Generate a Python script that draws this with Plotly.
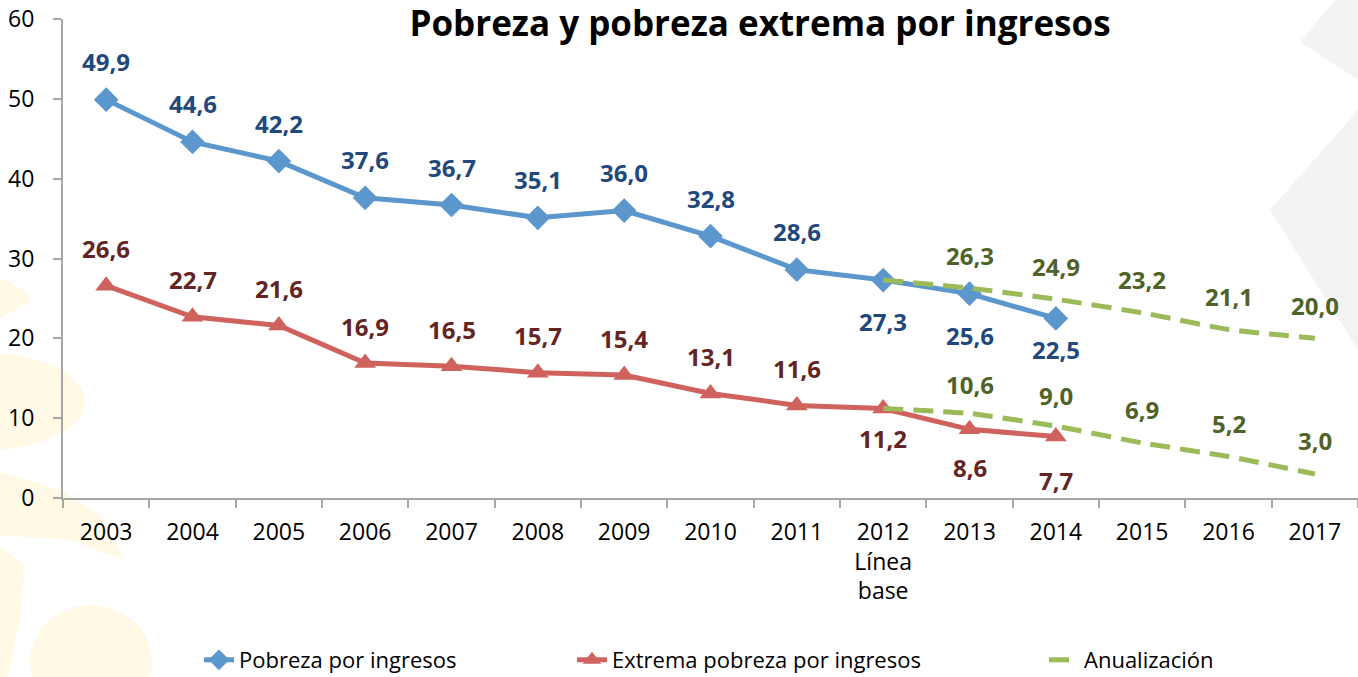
import plotly.graph_objects as go

# ---------------- data ----------------
years = ["2003", "2004", "2005", "2006", "2007", "2008", "2009", "2010",
         "2011", "2012", "2013", "2014", "2015", "2016", "2017"]
tick_labels = ["2003", "2004", "2005", "2006", "2007", "2008", "2009", "2010",
               "2011", "2012<br>Línea<br>base", "2013", "2014", "2015", "2016", "2017"]

pobreza_years = ["2003", "2004", "2005", "2006", "2007", "2008", "2009", "2010",
                 "2011", "2012", "2013", "2014"]
pobreza = [49.9, 44.6, 42.2, 37.6, 36.7, 35.1, 36.0, 32.8, 28.6, 27.3, 25.6, 22.5]
extrema = [26.6, 22.7, 21.6, 16.9, 16.5, 15.7, 15.4, 13.1, 11.6, 11.2, 8.6, 7.7]

anual_years = ["2012", "2013", "2014", "2015", "2016", "2017"]
anual_pobreza = [27.3, 26.3, 24.9, 23.2, 21.1, 20.0]
anual_extrema = [11.2, 10.6, 9.0, 6.9, 5.2, 3.0]

series_names = ["Pobreza por ingresos", "Extrema pobreza por ingresos", "Anualización"]
title_text = "Pobreza y pobreza extrema por ingresos"

# ---------------- styles ----------------
FONT = "Open Sans"
BLUE, BLUE_LBL = "#5B96CD", "#1F497D"
RED, RED_LBL = "#D0625E", "#632523"
GREEN, GREEN_LBL = "#9BBB59", "#4F6228"
AXIS = "#A6A6A6"

blue_shift = [38] * 9 + [-41, -42, -31]
red_shift = [37] * 9 + [-30, -38, -44]
green_shift_up = [33, 33, 33, 33, 33]
green_shift_low = [29, 31, 33, 33, 34]

W, H = 1358, 677
L, R, T, B = 63, 0, 19, 179


def fmt(v):
    return "<b>" + f"{v:.1f}".replace(".", ",") + "</b>"


def px(x):
    return (x - L) / (W - L - R)


def py(y):
    return (H - B - y) / (H - T - B)


fig = go.Figure()

fig.add_trace(go.Scatter(
    x=pobreza_years, y=pobreza, name=series_names[0], mode="lines+markers",
    line=dict(color=BLUE, width=5),
    marker=dict(symbol="diamond", size=19, color=BLUE),
    legend="legend", cliponaxis=False))
fig.add_trace(go.Scatter(
    x=pobreza_years, y=extrema, name=series_names[1], mode="lines+markers",
    line=dict(color=RED, width=5),
    marker=dict(symbol="triangle-up", size=19, color=RED),
    legend="legend2", cliponaxis=False))
fig.add_trace(go.Scatter(
    x=anual_years, y=anual_pobreza, name=series_names[2], mode="lines",
    line=dict(color=GREEN, width=5, dash="20px,10px", shape="spline", smoothing=0.4),
    legend="legend3", legendgroup="anual", cliponaxis=False))
fig.add_trace(go.Scatter(
    x=anual_years, y=anual_extrema, name=series_names[2], mode="lines",
    line=dict(color=GREEN, width=5, dash="20px,10px", shape="spline", smoothing=0.4),
    legend="legend3", legendgroup="anual", showlegend=False, cliponaxis=False))

annotations = []


def add_labels(xs, vals, shifts, color):
    for yr, v, s in zip(xs, vals, shifts):
        annotations.append(dict(
            x=years.index(yr), y=v, xref="x", yref="y", text=fmt(v),
            showarrow=False, yshift=s, xanchor="center", yanchor="middle",
            font=dict(family=FONT, size=24, color=color)))


add_labels(pobreza_years, pobreza, blue_shift, BLUE_LBL)
add_labels(pobreza_years, extrema, red_shift, RED_LBL)
add_labels(anual_years[1:], anual_pobreza[1:], green_shift_up, GREEN_LBL)
add_labels(anual_years[1:], anual_extrema[1:], green_shift_low, GREEN_LBL)

# decorative background watermark
YEL = "#FFF9E6"
GRY = "#F3F3F3"


def path(points):
    return "M" + " L".join(f"{px(a):.4f},{py(b):.4f}" for a, b in points) + " Z"


shapes = [
    dict(type="circle", xref="paper", yref="paper", x0=px(-110), x1=px(85),
         y0=py(450), y1=py(353), fillcolor=YEL, line_width=0, layer="below"),
    dict(type="circle", xref="paper", yref="paper", x0=px(30), x1=px(152),
         y0=py(720), y1=py(605), fillcolor=YEL, line_width=0, layer="below"),
    dict(type="path", xref="paper", yref="paper",
         path=path([(0, 472), (60, 490), (100, 515), (125, 560), (70, 540), (0, 535)]),
         fillcolor=YEL, line_width=0, layer="below"),
    dict(type="path", xref="paper", yref="paper",
         path=path([(0, 548), (25, 565), (20, 620), (8, 677), (0, 677)]),
         fillcolor=YEL, line_width=0, layer="below"),
    dict(type="path", xref="paper", yref="paper",
         path=path([(0, 278), (28, 292), (30, 302), (0, 318)]),
         fillcolor=YEL, line_width=0, layer="below"),
    dict(type="path", xref="paper", yref="paper",
         path=path([(1300, 42), (1335, 0), (1358, 0), (1358, 80)]),
         fillcolor=GRY, line_width=0, layer="below"),
    dict(type="path", xref="paper", yref="paper",
         path=path([(1358, 110), (1270, 210), (1358, 350)]),
         fillcolor=GRY, line_width=0, layer="below"),
]

legend_common = dict(orientation="h", yanchor="middle", xanchor="left",
                     font=dict(family=FONT, size=22, color="#000000"),
                     bgcolor="rgba(0,0,0,0)", borderwidth=0)

fig.update_layout(
    width=W, height=H,
    margin=dict(l=L, r=R, t=T, b=B, autoexpand=False),
    paper_bgcolor="white", plot_bgcolor="rgba(0,0,0,0)",
    font=dict(family=FONT, color="#000000"),
    title=dict(text=f"<b>{title_text}</b>", x=760 / W, xanchor="center",
               y=1 - 24 / H, yanchor="middle", yref="container",
               font=dict(family=FONT, size=35, color="#000000")),
    xaxis=dict(type="category", categoryorder="array", categoryarray=years,
               range=[-0.5, 14.5], tickvals=years, ticktext=tick_labels,
               tickson="boundaries", ticks="outside", ticklen=8, tickwidth=2,
               tickcolor=AXIS, showline=True, linecolor=AXIS, linewidth=2,
               showgrid=False, zeroline=False, ticklabelstandoff=12,
               automargin=False,
               tickfont=dict(family=FONT, size=23, color="#000000")),
    yaxis=dict(range=[0, 60], tickvals=[0, 10, 20, 30, 40, 50, 60],
               ticks="outside", ticklen=8, tickwidth=2, tickcolor=AXIS,
               showline=True, linecolor=AXIS, linewidth=2, showgrid=False,
               zeroline=False, ticklabelstandoff=14, automargin=False,
               tickfont=dict(family=FONT, size=23, color="#000000")),
    legend=dict(legend_common, x=px(199), y=py(660)),
    legend2=dict(legend_common, x=px(572), y=py(660)),
    legend3=dict(legend_common, x=px(1044), y=py(660)),
    annotations=annotations,
    shapes=shapes,
    showlegend=True,
)

fig.write_html(
    "out.html",
    config={"displayModeBar": False},
    post_script="document.body.style.margin='0';document.body.style.overflow='hidden';",
)
